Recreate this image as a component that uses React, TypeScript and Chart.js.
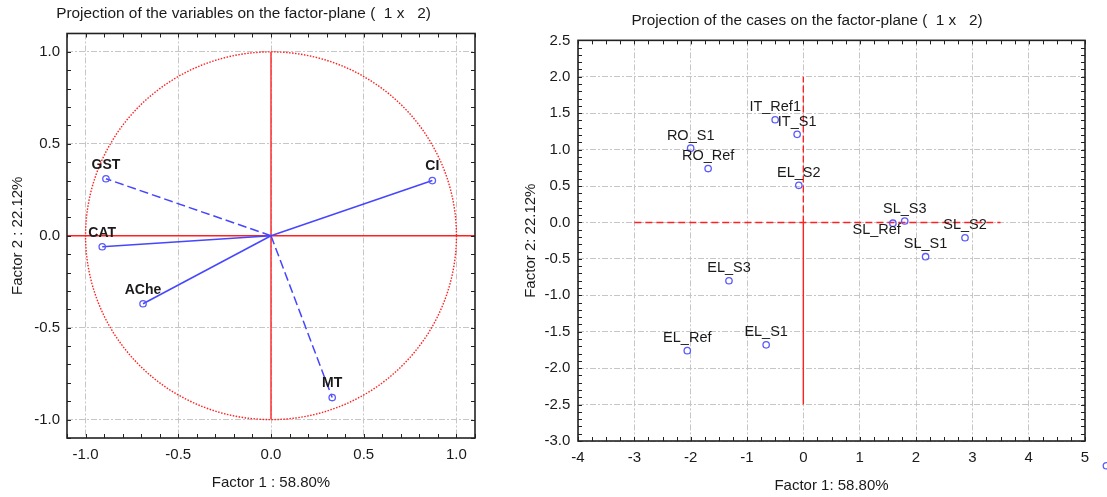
import React, { useEffect, useRef } from "react";
import { Chart, registerables } from "chart.js";

Chart.register(...registerables);

const FONT = "Arial, 'Liberation Sans', Helvetica, sans-serif";
const BLUE_LINE = "#4646ff";
const BLUE_MARK = "#5a5aff";
const RED = "#ff2020";
const TEXT = "#1a1a1a";
const GRID = "#c6c6c6";

// ---------- Left chart: projection of the variables ----------
const variableNames = ["CI", "GST", "CAT", "AChe", "MT"];
const variableFactor1 = [0.87, -0.89, -0.91, -0.69, 0.33];
const variableFactor2 = [0.3, 0.31, -0.06, -0.37, -0.88];
const variableDashed = [false, true, false, false, true];
const loadingMin = -1.1;
const loadingMax = 1.1;
const loadingTicks = [-1.0, -0.5, 0.0, 0.5, 1.0];
const loadingTickLabels = ["-1.0", "-0.5", "0.0", "0.5", "1.0"];
const loadingMinorStep = 0.1;
const correlationCircleRadius = 1;
const variableHAxis = [
  { x: -1.1, y: 0 },
  { x: 1.1, y: 0 },
];
const variableVAxis = [
  { x: 0, y: -1 },
  { x: 0, y: 1 },
];

// ---------- Right chart: projection of the cases ----------
const caseNames = [
  "IT_Ref1",
  "IT_S1",
  "RO_S1",
  "RO_Ref",
  "EL_S2",
  "SL_S3",
  "SL_Ref",
  "SL_S2",
  "SL_S1",
  "EL_S3",
  "EL_S1",
  "EL_Ref",
];
const caseFactor1 = [-0.5, -0.11, -2.0, -1.69, -0.08, 1.8, 1.59, 2.87, 2.17, -1.32, -0.66, -2.06];
const caseFactor2 = [1.41, 1.21, 1.02, 0.74, 0.51, 0.02, -0.01, -0.21, -0.47, -0.8, -1.68, -1.76];
const caseLabelPlacement = [
  "above",
  "above",
  "above",
  "above",
  "above",
  "above",
  "belowLeft",
  "above",
  "above",
  "above",
  "above",
  "above",
];
// a case lying outside the plotted range (only partly visible at the picture's edge)
const strayCaseFactor1 = [5.38];
const strayCaseFactor2 = [-3.34];
const caseXMin = -4;
const caseXMax = 5;
const caseYMin = -3;
const caseYMax = 2.5;
const caseXTicks = [-4, -3, -2, -1, 0, 1, 2, 3, 4, 5];
const caseXTickLabels = ["-4", "-3", "-2", "-1", "0", "1", "2", "3", "4", "5"];
const caseYTicks = [-3.0, -2.5, -2.0, -1.5, -1.0, -0.5, 0.0, 0.5, 1.0, 1.5, 2.0, 2.5];
const caseYTickLabels = ["-3.0", "-2.5", "-2.0", "-1.5", "-1.0", "-0.5", "0.0", "0.5", "1.0", "1.5", "2.0", "2.5"];
const caseXMinorStep = 0.25;
const caseYMinorStep = 0.1;
const caseHAxis = [
  { x: -3, y: 0 },
  { x: 3.5, y: 0 },
];
const caseVAxisUpper = [
  { x: 0, y: 0 },
  { x: 0, y: 2 },
];
const caseVAxisLower = [
  { x: 0, y: -2.5 },
  { x: 0, y: 0 },
];

// ---------- plugins ----------
function framePlugin(xMinor: number, yMinor: number) {
  return {
    id: "frameTicks",
    afterDraw(chart: any) {
      const { ctx, chartArea: a, scales } = chart;
      const xs = scales.x;
      const ys = scales.y;
      const L = 4;
      ctx.save();
      ctx.strokeStyle = "#222";
      ctx.lineWidth = 1;
      ctx.beginPath();
      for (let k = Math.ceil(xs.min / xMinor - 1e-9); k * xMinor <= xs.max + 1e-9; k++) {
        const px = Math.round(xs.getPixelForValue(k * xMinor)) + 0.5;
        ctx.moveTo(px, a.bottom);
        ctx.lineTo(px, a.bottom - L);
        ctx.moveTo(px, a.top);
        ctx.lineTo(px, a.top + L);
      }
      for (let k = Math.ceil(ys.min / yMinor - 1e-9); k * yMinor <= ys.max + 1e-9; k++) {
        const py = Math.round(ys.getPixelForValue(k * yMinor)) + 0.5;
        ctx.moveTo(a.left, py);
        ctx.lineTo(a.left + L, py);
        ctx.moveTo(a.right, py);
        ctx.lineTo(a.right - L, py);
      }
      ctx.stroke();
      ctx.lineWidth = 1.6;
      ctx.strokeStyle = "#222";
      ctx.strokeRect(a.left, a.top, a.right - a.left, a.bottom - a.top);
      ctx.restore();
    },
  };
}

const circlePlugin = {
  id: "unitCircle",
  beforeDatasetsDraw(chart: any) {
    const { ctx, scales } = chart;
    const xs = scales.x;
    const ys = scales.y;
    const cx = xs.getPixelForValue(0);
    const cy = ys.getPixelForValue(0);
    const rx = Math.abs(xs.getPixelForValue(correlationCircleRadius) - cx);
    const ry = Math.abs(ys.getPixelForValue(correlationCircleRadius) - cy);
    ctx.save();
    ctx.strokeStyle = RED;
    ctx.lineWidth = 1.4;
    ctx.setLineDash([1.5, 1.5]);
    ctx.beginPath();
    ctx.ellipse(cx, cy, rx, ry, 0, 0, Math.PI * 2);
    ctx.stroke();
    ctx.restore();
  },
};

const variableLabelPlugin = {
  id: "variableLabels",
  afterDatasetsDraw(chart: any) {
    const { ctx } = chart;
    ctx.save();
    ctx.font = `bold 14px ${FONT}`;
    ctx.fillStyle = TEXT;
    ctx.textAlign = "center";
    ctx.textBaseline = "middle";
    variableNames.forEach((name, i) => {
      const el = chart.getDatasetMeta(i).data[1];
      if (el) ctx.fillText(name, el.x, el.y - 14);
    });
    ctx.restore();
  },
};

const caseLabelPlugin = {
  id: "caseLabels",
  afterDatasetsDraw(chart: any) {
    const { ctx } = chart;
    const meta = chart.getDatasetMeta(0);
    ctx.save();
    ctx.font = `14.5px ${FONT}`;
    ctx.fillStyle = TEXT;
    ctx.textBaseline = "middle";
    caseNames.forEach((name, i) => {
      const el = meta.data[i];
      if (!el) return;
      if (caseLabelPlacement[i] === "belowLeft") {
        ctx.textAlign = "right";
        ctx.fillText(name, el.x + 8, el.y + 6.5);
      } else {
        ctx.textAlign = "center";
        ctx.fillText(name, el.x, el.y - 12.5);
      }
    });
    ctx.restore();
  },
};

// draws the out-of-range case marker, which Chart.js would skip outside its chart area
const strayCasePlugin = {
  id: "strayCases",
  afterDraw(chart: any) {
    const { ctx, scales } = chart;
    ctx.save();
    ctx.strokeStyle = BLUE_MARK;
    ctx.lineWidth = 1.3;
    strayCaseFactor1.forEach((v, i) => {
      const px = scales.x.getPixelForValue(v);
      const py = scales.y.getPixelForValue(strayCaseFactor2[i]);
      ctx.beginPath();
      ctx.arc(px, py, 3.2, 0, Math.PI * 2);
      ctx.stroke();
    });
    ctx.restore();
  },
};

function axisConfig(opts: {
  min: number;
  max: number;
  ticks: number[];
  labels: string[];
  title: string;
  titlePadding: any;
  tickPadding: number;
  fit: (s: any) => void;
  position: string;
}) {
  return {
    type: "linear",
    position: opts.position,
    min: opts.min,
    max: opts.max,
    bounds: "data",
    afterBuildTicks: (s: any) => {
      s.ticks = opts.ticks.map((v) => ({ value: v }));
    },
    afterFit: opts.fit,
    ticks: {
      autoSkip: false,
      maxRotation: 0,
      padding: opts.tickPadding,
      color: TEXT,
      font: { family: FONT, size: 15 },
      callback: (_v: any, i: number) => opts.labels[i],
    },
    grid: { color: GRID, lineWidth: 1, drawTicks: false, borderDash: [6, 2, 2, 2] },
    border: { display: false, dash: [6, 2, 2, 2] },
    title: {
      display: true,
      text: opts.title,
      color: TEXT,
      font: { family: FONT, size: 15 },
      padding: opts.titlePadding,
    },
  };
}

export default function App() {
  const leftRef = useRef<HTMLCanvasElement | null>(null);
  const rightRef = useRef<HTMLCanvasElement | null>(null);

  useEffect(() => {
    const leftCanvas = leftRef.current;
    const rightCanvas = rightRef.current;
    if (!leftCanvas || !rightCanvas) return;

    const leftDatasets: any[] = variableNames.map((name, i) => ({
      label: name,
      data: [
        { x: 0, y: 0 },
        { x: variableFactor1[i], y: variableFactor2[i] },
      ],
      showLine: true,
      borderColor: BLUE_LINE,
      borderWidth: 1.5,
      borderDash: variableDashed[i] ? [9, 4] : [],
      pointRadius: [0, 3.2],
      pointBorderColor: BLUE_MARK,
      pointBackgroundColor: "rgba(0,0,0,0)",
      pointBorderWidth: 1.3,
    }));
    leftDatasets.push(
      {
        label: "h-axis",
        data: variableHAxis,
        showLine: true,
        borderColor: RED,
        borderWidth: 1.4,
        pointRadius: 0,
      },
      {
        label: "v-axis",
        data: variableVAxis,
        showLine: true,
        borderColor: RED,
        borderWidth: 1.4,
        pointRadius: 0,
      }
    );

    const leftChart = new Chart(leftCanvas, {
      type: "scatter",
      data: { datasets: leftDatasets },
      options: {
        responsive: false,
        animation: false,
        events: [],
        layout: { padding: { left: 12, right: 12, top: 0, bottom: 0 } },
        plugins: {
          legend: { display: false },
          tooltip: { enabled: false },
          title: {
            display: true,
            text: "Projection of the variables on the factor-plane (  1 x   2)",
            color: TEXT,
            font: { family: FONT, size: 15.4, weight: "normal" },
            padding: { top: 5, bottom: 10 },
          },
        },
        scales: {
          x: axisConfig({
            position: "bottom",
            min: loadingMin,
            max: loadingMax,
            ticks: loadingTicks,
            labels: loadingTickLabels,
            title: "Factor 1 : 58.80%",
            titlePadding: { top: 0, bottom: 5 },
            tickPadding: 8,
            fit: (s: any) => {
              s.height = 59;
            },
          }),
          y: axisConfig({
            position: "left",
            min: loadingMin,
            max: loadingMax,
            ticks: loadingTicks,
            labels: loadingTickLabels,
            title: "Factor 2 : 22.12%",
            titlePadding: { top: -3.5, bottom: 0 },
            tickPadding: 7,
            fit: (s: any) => {
              s.width = 55;
            },
          }),
        },
      } as any,
      plugins: [circlePlugin, variableLabelPlugin, framePlugin(loadingMinorStep, loadingMinorStep)],
    });

    const rightDatasets: any[] = [
      {
        label: "cases",
        data: caseNames.map((_, i) => ({ x: caseFactor1[i], y: caseFactor2[i] })),
        pointRadius: 3.2,
        pointBorderColor: BLUE_MARK,
        pointBackgroundColor: "rgba(0,0,0,0)",
        pointBorderWidth: 1.3,
      },
      {
        label: "h-axis",
        data: caseHAxis,
        showLine: true,
        borderColor: RED,
        borderWidth: 1.4,
        borderDash: [7, 4],
        pointRadius: 0,
      },
      {
        label: "v-axis-upper",
        data: caseVAxisUpper,
        showLine: true,
        borderColor: RED,
        borderWidth: 1.4,
        borderDash: [7, 3],
        pointRadius: 0,
      },
      {
        label: "v-axis-lower",
        data: caseVAxisLower,
        showLine: true,
        borderColor: RED,
        borderWidth: 1.4,
        pointRadius: 0,
      },
    ];

    const rightChart = new Chart(rightCanvas, {
      type: "scatter",
      data: { datasets: rightDatasets },
      options: {
        responsive: false,
        animation: false,
        events: [],
        layout: { padding: { left: 29, right: 22, top: 0, bottom: 0 } },
        plugins: {
          legend: { display: false },
          tooltip: { enabled: false },
          title: {
            display: true,
            text: "Projection of the cases on the factor-plane (  1 x   2)",
            color: TEXT,
            font: { family: FONT, size: 15.3, weight: "normal" },
            padding: { top: 12, bottom: 10 },
          },
        },
        scales: {
          x: axisConfig({
            position: "bottom",
            min: caseXMin,
            max: caseXMax,
            ticks: caseXTicks,
            labels: caseXTickLabels,
            title: "Factor 1: 58.80%",
            titlePadding: { top: 0, bottom: 2 },
            tickPadding: 8.3,
            fit: (s: any) => {
              s.height = 56;
            },
          }),
          y: axisConfig({
            position: "left",
            min: caseYMin,
            max: caseYMax,
            ticks: caseYTicks,
            labels: caseYTickLabels,
            title: "Factor 2: 22.12%",
            titlePadding: { top: -7, bottom: 0 },
            tickPadding: 7.7,
            fit: (s: any) => {
              s.width = 49;
            },
          }),
        },
      } as any,
      plugins: [caseLabelPlugin, framePlugin(caseXMinorStep, caseYMinorStep), strayCasePlugin],
    });

    return () => {
      leftChart.destroy();
      rightChart.destroy();
    };
  }, []);

  return (
    <div
      style={{
        position: "absolute",
        left: 0,
        top: 0,
        width: 1107,
        height: 497,
        background: "#fff",
        overflow: "hidden",
      }}
    >
      <canvas
        ref={leftRef}
        width={487}
        height={497}
        style={{ position: "absolute", left: 0, top: 0 }}
      />
      <canvas
        ref={rightRef}
        width={607}
        height={497}
        style={{ position: "absolute", left: 500, top: 0 }}
      />
    </div>
  );
}
